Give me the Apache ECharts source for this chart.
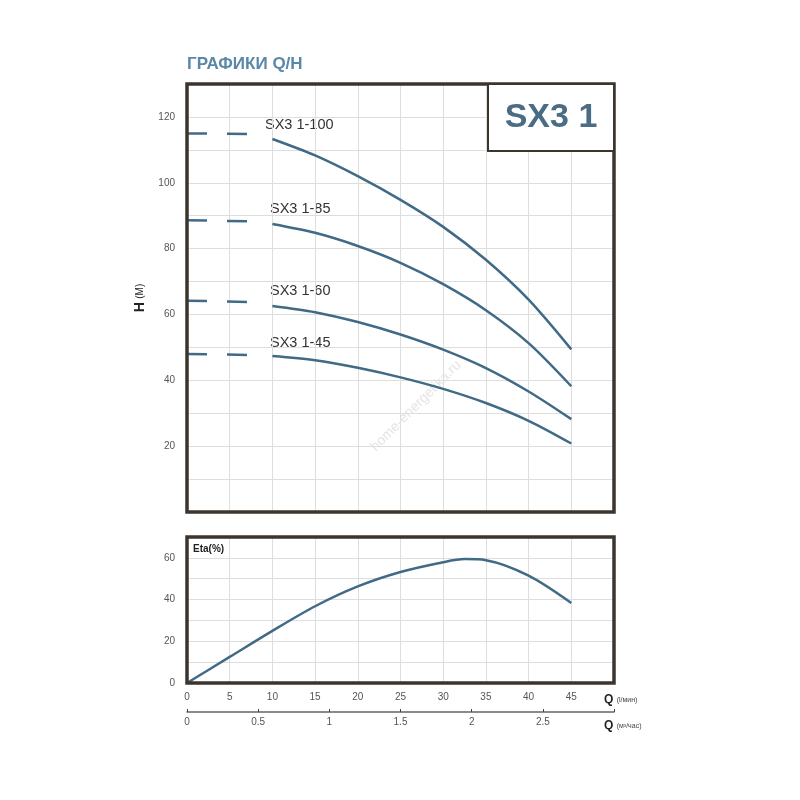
<!DOCTYPE html>
<html>
<head>
<meta charset="utf-8">
<script src="https://cdn.jsdelivr.net/npm/echarts@6/dist/echarts.min.js"></script>
<style>
html, body { margin: 0; padding: 0; background: #fff; }
#chart { width: 800px; height: 800px; }
</style>
</head>
<body>
<div id="chart"></div>
<script>
// расход, л/мин
const flowQ = [10, 15, 20, 25, 30, 35, 40, 45];
// напор, м
const headSX100 = [113.3, 108.3, 102, 94.8, 86.6, 76.6, 64.5, 49.4];
const headSX85 = [87.5, 84.8, 80.8, 75.7, 69.2, 61.3, 51.3, 38.2];
const headSX60 = [62.6, 60.7, 57.7, 53.9, 49.3, 43.7, 36.6, 28.2];
const headSX45 = [47.4, 46.1, 43.8, 40.9, 37.4, 33.1, 27.7, 20.8];
// пунктир до Q=10
const dashQ = [0, 7.3];
const dashSX100 = [115, 114.8];
const dashSX85 = [88.6, 88.3];
const dashSX60 = [64.2, 63.8];
const dashSX45 = [48, 47.7];
// КПД
const etaQ = [0, 5, 10, 15, 20, 25, 30, 32.5, 35, 40, 45];
const etaVal = [0, 12.5, 25, 36.8, 46.3, 53.2, 57.9, 59.4, 58.9, 51.5, 38.4];
const models = ['SX3 1-100', 'SX3 1-85', 'SX3 1-60', 'SX3 1-45'];

const LINE = '#416a86';
const FRAME = '#3b352e';
const GRIDC = '#dedede';

function pairs(xs, ys) {
    return xs.map((x, i) => [x, ys[i]]);
}

const curves = [headSX100, headSX85, headSX60, headSX45];
const dashes = [dashSX100, dashSX85, dashSX60, dashSX45];
const series = [];
curves.forEach((c, i) => {
    series.push({
        name: models[i], type: 'line', xAxisIndex: 0, yAxisIndex: 0,
        smooth: 0.3, showSymbol: false, data: pairs(flowQ, c),
        lineStyle: {color: LINE, width: 2.5}
    });
    series.push({
        type: 'line', xAxisIndex: 0, yAxisIndex: 0, showSymbol: false,
        data: pairs(dashQ, dashes[i]),
        lineStyle: {color: LINE, width: 2.5, type: [20, 20]}
    });
});
series.push({
    name: 'Eta', type: 'line', xAxisIndex: 1, yAxisIndex: 1,
    smooth: 0.3, showSymbol: false, data: pairs(etaQ, etaVal),
    lineStyle: {color: LINE, width: 2.5}
});

const axisLbl = {color: '#555', fontSize: 10, fontFamily: 'Liberation Sans'};
const unitRich = {
    q: {fontWeight: 'bold', fontSize: 12, color: '#222', fontFamily: 'Liberation Sans'},
    u: {fontSize: 7, color: '#444', fontFamily: 'Liberation Sans'}
};

const option = {
    animation: false,
    grid: [
        {left: 187, top: 84, width: 427, height: 428},
        {left: 187, top: 537, width: 427, height: 146}
    ],
    xAxis: [
        {
            gridIndex: 0, type: 'value', min: 0, max: 50, interval: 5,
            axisLine: {show: false}, axisTick: {show: false}, axisLabel: {show: false},
            splitLine: {lineStyle: {color: GRIDC, width: 1}}
        },
        {
            gridIndex: 1, type: 'value', min: 0, max: 50, interval: 5,
            axisLine: {show: false}, axisTick: {show: false},
            axisLabel: Object.assign({margin: 9, formatter: v => v === 50 ? '' : v}, axisLbl),
            splitLine: {lineStyle: {color: GRIDC, width: 1}},
            name: '{q|Q} {u|(l/мин)}', nameLocation: 'end', nameGap: -10,
            nameTextStyle: {verticalAlign: 'top', padding: [11, 0, 0, 0], rich: unitRich}
        },
        {
            gridIndex: 1, type: 'value', min: 0, max: 3, interval: 0.5, position: 'bottom', offset: 29,
            axisLine: {show: true, lineStyle: {color: '#666', width: 1.5}},
            axisTick: {show: true, inside: true, length: 3, lineStyle: {color: '#444'}},
            axisLabel: Object.assign({margin: 5, formatter: v => v === 3 ? '' : v}, axisLbl),
            splitLine: {show: false},
            name: '{q|Q} {u|(м³/час)}', nameLocation: 'end', nameGap: -10,
            nameTextStyle: {verticalAlign: 'top', padding: [8, 0, 0, 0], rich: unitRich}
        }
    ],
    yAxis: [
        {
            gridIndex: 0, type: 'value', min: 0, max: 130, interval: 10,
            axisLine: {show: false}, axisTick: {show: false},
            axisLabel: Object.assign({margin: 12, formatter: v => (v % 20 === 0 && v > 0 && v < 130) ? v : ''}, axisLbl),
            splitLine: {lineStyle: {color: GRIDC, width: 1}},
            name: '{h|H} {m|(M)}', nameLocation: 'middle', nameGap: 32, nameRotate: 90,
            nameTextStyle: {
                rich: {
                    h: {fontWeight: 'bold', fontSize: 14, color: '#222', fontFamily: 'Liberation Sans'},
                    m: {fontSize: 10, color: '#222', fontFamily: 'Liberation Sans'}
                }
            }
        },
        {
            gridIndex: 1, type: 'value', min: 0, max: 70, interval: 10,
            axisLine: {show: false}, axisTick: {show: false},
            axisLabel: Object.assign({margin: 12, formatter: v => (v % 20 === 0 && v < 70) ? v : ''}, axisLbl),
            splitLine: {lineStyle: {color: GRIDC, width: 1}}
        }
    ],
    graphic: [
        {type: 'text', x: 187, y: 64, style: {text: 'ГРАФИКИ Q/H', fill: '#5a88a8', font: 'bold 17px "Liberation Sans"', textVerticalAlign: 'middle'}},
        {type: 'rect', shape: {x: 187, y: 84, width: 427, height: 428}, style: {fill: 'none', stroke: FRAME, lineWidth: 3.5}, z: 100},
        {type: 'rect', shape: {x: 187, y: 537, width: 427, height: 146}, style: {fill: 'none', stroke: FRAME, lineWidth: 3.5}, z: 100},
        {type: 'rect', shape: {x: 488, y: 84, width: 126, height: 67}, style: {fill: '#fff', stroke: FRAME, lineWidth: 2}, z: 101},
        {type: 'text', x: 551, y: 118, style: {text: 'SX3 1', fill: '#4a6c84', font: 'bold 34px "Liberation Sans"', textAlign: 'center', textVerticalAlign: 'middle'}, z: 102},
        {type: 'text', x: 265, y: 125, style: {text: models[0], fill: '#333', font: '14.5px "Liberation Sans"', textVerticalAlign: 'middle'}},
        {type: 'text', x: 270, y: 209, style: {text: models[1], fill: '#333', font: '14.5px "Liberation Sans"', textVerticalAlign: 'middle'}},
        {type: 'text', x: 270, y: 291, style: {text: models[2], fill: '#333', font: '14.5px "Liberation Sans"', textVerticalAlign: 'middle'}},
        {type: 'text', x: 270, y: 343, style: {text: models[3], fill: '#333', font: '14.5px "Liberation Sans"', textVerticalAlign: 'middle'}},
        {type: 'text', x: 193, y: 549, style: {text: 'Eta(%)', fill: '#222', font: 'bold 10px "Liberation Sans"', textVerticalAlign: 'middle'}},
        {type: 'text', x: 416, y: 406, rotation: Math.PI / 4, style: {text: 'home-energetika.ru', fill: '#e4e4e4', font: '14px "Liberation Sans"', textAlign: 'center', textVerticalAlign: 'middle'}}
    ],
    series: series
};

const myChart = echarts.init(document.getElementById('chart'));
myChart.setOption(option);
</script>
</body>
</html>
